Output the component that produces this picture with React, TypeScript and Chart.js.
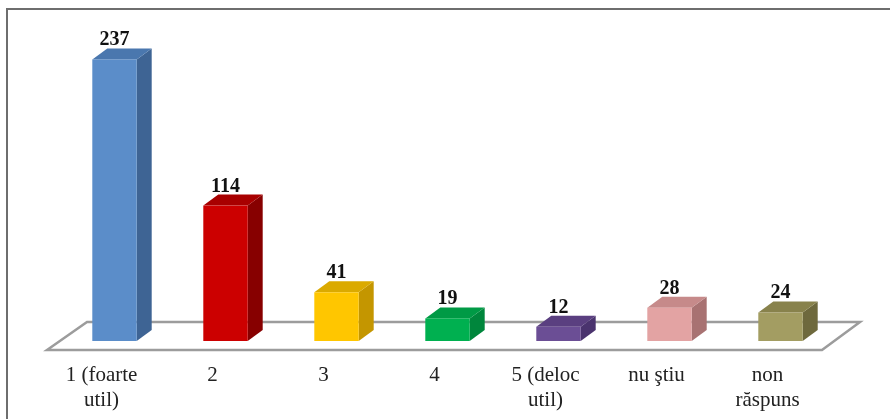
import React, { useEffect, useRef } from "react";
import { Chart, registerables } from "chart.js";

Chart.register(...registerables);

const categories: (string | string[])[] = [
  ["1 (foarte", "util)"],
  "2",
  "3",
  "4",
  ["5 (deloc", "util)"],
  "nu ştiu",
  ["non", "răspuns"],
];
const values = [237, 114, 41, 19, 12, 28, 24];
const frontColors = ["#5B8DC9", "#CC0000", "#FFC600", "#00B050", "#6B4E95", "#E3A3A3", "#A39D62"];
const sideColors = ["#3E6494", "#870000", "#C49600", "#00863C", "#4A336E", "#A87272", "#6E693D"];
const topColors = ["#4A77AE", "#A80000", "#DBAA00", "#009A45", "#5A3F80", "#C68A8A", "#88824C"];
const yMax = 250;

const SHIFT = 13;
const DX = 15;
const DY = 11;

const bar3dPlugin = {
  id: "bar3d",
  beforeDraw(chart: any) {
    const ctx = chart.ctx;
    const { left, right, bottom } = chart.chartArea;
    ctx.save();
    // frame
    ctx.strokeStyle = "#6e6e6e";
    ctx.lineWidth = 2;
    ctx.beginPath();
    ctx.moveTo(7, chart.height + 2);
    ctx.lineTo(7, 9);
    ctx.lineTo(chart.width + 2, 9);
    ctx.stroke();
    // floor
    const fy = bottom + 9;
    const by = bottom - 19;
    ctx.fillStyle = "#ffffff";
    ctx.strokeStyle = "#9c9c9c";
    ctx.lineWidth = 2.5;
    ctx.beginPath();
    ctx.moveTo(left + 1, fy);
    ctx.lineTo(left + 41, by);
    ctx.lineTo(right + 37, by);
    ctx.lineTo(right - 1, fy);
    ctx.closePath();
    ctx.fill();
    ctx.stroke();
    ctx.restore();
  },
  beforeDatasetDraw() {
    return false;
  },
  afterDatasetsDraw(chart: any) {
    const ctx = chart.ctx;
    const meta = chart.getDatasetMeta(0);
    ctx.save();
    meta.data.forEach((el: any, i: number) => {
      const { x, y, base, width } = el.getProps(["x", "y", "base", "width"], true);
      const fx = x + SHIFT - width / 2;
      const fr = fx + width;
      // side
      ctx.fillStyle = sideColors[i];
      ctx.beginPath();
      ctx.moveTo(fr, y);
      ctx.lineTo(fr + DX, y - DY);
      ctx.lineTo(fr + DX, base - DY);
      ctx.lineTo(fr, base);
      ctx.closePath();
      ctx.fill();
      // top
      ctx.fillStyle = topColors[i];
      ctx.beginPath();
      ctx.moveTo(fx, y);
      ctx.lineTo(fx + DX, y - DY);
      ctx.lineTo(fr + DX, y - DY);
      ctx.lineTo(fr, y);
      ctx.closePath();
      ctx.fill();
      // front
      ctx.fillStyle = frontColors[i];
      ctx.fillRect(fx, y, width, base - y);
      // label
      ctx.fillStyle = "#111111";
      ctx.font = "bold 20px 'Liberation Serif', 'Times New Roman', serif";
      ctx.textAlign = "center";
      ctx.textBaseline = "alphabetic";
      ctx.fillText(String(values[i]), x + SHIFT, y - DY - 3);
    });
    ctx.restore();
  },
};

export default function App() {
  const canvasRef = useRef<HTMLCanvasElement | null>(null);

  useEffect(() => {
    if (!canvasRef.current) return;
    const chart = new Chart(canvasRef.current, {
      type: "bar",
      data: {
        labels: categories,
        datasets: [
          {
            data: values,
            backgroundColor: frontColors,
            categoryPercentage: 0.8,
            barPercentage: 0.5,
          },
        ],
      },
      options: {
        animation: false,
        responsive: true,
        maintainAspectRatio: false,
        layout: { padding: { left: 46, right: 67, top: 44, bottom: 0 } },
        plugins: {
          legend: { display: false },
          tooltip: { enabled: false },
        },
        scales: {
          x: {
            grid: { display: false, drawTicks: false },
            border: { display: false },
            ticks: {
              color: "#222222",
              padding: 22,
              maxRotation: 0,
              autoSkip: false,
              font: { family: "'Liberation Serif', 'Times New Roman', serif", size: 21, lineHeight: 1.19 },
            },
            afterFit: (scale: any) => {
              scale.height = 78;
            },
          },
          y: {
            display: false,
            min: 0,
            max: yMax,
          },
        },
      },
      plugins: [bar3dPlugin],
    });
    return () => chart.destroy();
  }, []);

  return (
    <div style={{ position: "absolute", left: 0, top: 0, width: 890, height: 419, background: "#fff" }}>
      <canvas ref={canvasRef} />
    </div>
  );
}
